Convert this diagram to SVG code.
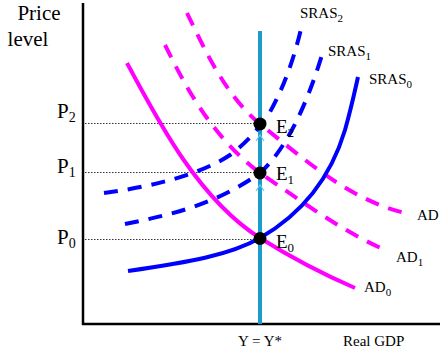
<svg xmlns="http://www.w3.org/2000/svg" width="440" height="352" viewBox="0 0 440 352">
<style>
text{font-family:"Liberation Serif","DejaVu Serif","Times New Roman",serif;fill:#000}
.ax{stroke:#000;stroke-width:2.5;fill:none}
.dot{stroke:#333;stroke-width:1;stroke-dasharray:1.5 1.5;fill:none}
.sras{stroke:#0000ff;stroke-width:4;fill:none}
.ad{stroke:#ff00ff;stroke-width:4;fill:none}
.dash{stroke-dasharray:14 10}
.lbl{font-size:15px}
.big{font-size:21px}
.eq{font-size:19px}
</style>
<g id="axes">
<line class="ax" x1="83" y1="3" x2="83" y2="325"/>
<line class="ax" x1="82" y1="324" x2="440" y2="324"/>
</g>
<g id="guides">
<line class="dot" x1="85" y1="123.5" x2="258" y2="123.5"/>
<line class="dot" x1="85" y1="172.5" x2="258" y2="172.5"/>
<line class="dot" x1="85" y1="239.5" x2="258" y2="239.5"/>
</g>
<g id="connectors">
<path id="AD0" class="ad" d="M127,63 C160,125 200,200 260,238 C295,260 325,275 355,288"/>
<path id="AD1" class="ad dash" d="M165,45 C185,85 210,135 260,173 C300,200 340,230 385,250"/>
<path id="AD2" class="ad dash" d="M187,13 C205,50 225,95 260,124 C305,160 350,200 405,213"/>
<line id="LRAS" x1="260" y1="31" x2="260" y2="324" stroke="#1a9ccc" stroke-width="4"/>
<path id="SRAS0" class="sras" d="M128,271 C190,262 230,255 260,238 C300,215 330,180 345,130 C352,105 355,90 358,77"/>
<path id="SRAS1" class="sras dash" d="M125,224 C170,215 215,205 260,173 C285,150 305,110 322,55"/>
<path id="SRAS2" class="sras dash" d="M104,193 C150,187 200,175 230,155 C250,140 262,124 270,112 C285,85 295,55 302,25"/>
<polyline points="256,191 260,185 264,191" stroke="#6cc8e8" stroke-width="1.3" fill="none"/>
<polyline points="256,141 260,135 264,141" stroke="#6cc8e8" stroke-width="1.3" fill="none"/>
</g>
<g id="E0"><circle cx="260" cy="238.5" r="6.5" fill="#000"/><text class="eq" x="276" y="248">E<tspan font-size="13" dy="4">0</tspan></text></g>
<g id="E1"><circle cx="260" cy="173" r="6.5" fill="#000"/><text class="eq" x="276" y="180">E<tspan font-size="13" dy="4">1</tspan></text></g>
<g id="E2"><circle cx="260" cy="124" r="6.5" fill="#000"/><text class="eq" x="276" y="133">E<tspan font-size="13" dy="4">2</tspan></text></g>
<g id="labels">
<text class="big" x="39" y="20" text-anchor="middle">Price</text>
<text class="big" x="28" y="46" text-anchor="middle">level</text>
<text class="big" x="57" y="118">P<tspan font-size="14" dy="4">2</tspan></text>
<text class="big" x="57" y="173">P<tspan font-size="14" dy="4">1</tspan></text>
<text class="big" x="57" y="244">P<tspan font-size="14" dy="4">0</tspan></text>
<text class="lbl" x="300" y="18">SRAS<tspan font-size="11" dy="4">2</tspan></text>
<text class="lbl" x="328" y="56">SRAS<tspan font-size="11" dy="4">1</tspan></text>
<text class="lbl" x="369" y="84">SRAS<tspan font-size="11" dy="4">0</tspan></text>
<text class="lbl" x="417" y="220">AD</text>
<text class="lbl" x="396" y="262">AD<tspan font-size="11" dy="4">1</tspan></text>
<text class="lbl" x="364" y="292">AD<tspan font-size="11" dy="4">0</tspan></text>
<text class="lbl" x="260" y="346" text-anchor="middle">Y = Y*</text>
<text class="lbl" x="343" y="346">Real GDP</text>
</g>
</svg>
